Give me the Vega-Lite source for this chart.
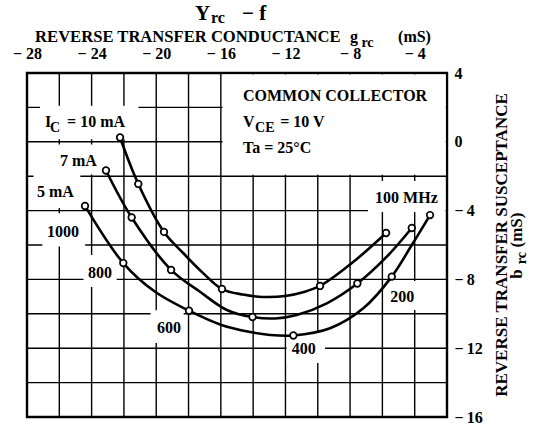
{
  "$schema": "https://vega.github.io/schema/vega-lite/v6.json",
  "width": 420,
  "height": 344,
  "autosize": {"type": "none"},
  "padding": {"left": 27, "top": 73, "right": 86, "bottom": 10},
  "background": "white",
  "config": {
    "view": {"stroke": "black", "strokeWidth": 2.4},
    "axis": {
      "grid": false,
      "domain": false, "ticks": false,
      "labelFont": "Liberation Serif", "labelFontWeight": "bold", "labelFontSize": 16,
      "labelColor": "black", "labelOverlap": false, "labelFlush": false
    }
  },
  "datasets": {
    "gx": [{"v": -26}, {"v": -24}, {"v": -22}, {"v": -20}, {"v": -18}, {"v": -16}, {"v": -14}, {"v": -12}, {"v": -10}, {"v": -8}, {"v": -6}, {"v": -4}],
    "gy": [{"v": -14}, {"v": -12}, {"v": -10}, {"v": -8}, {"v": -6}, {"v": -4}, {"v": -2}, {"v": 0}, {"v": 2}],
    "curves": [
      {"curve": "10mA", "x": -22.24, "y": 0.25, "m": 1},
      {"curve": "10mA", "x": -21.11, "y": -2.45, "m": 1},
      {"curve": "10mA", "x": -19.52, "y": -5.24, "m": 1},
      {"curve": "10mA", "x": -18.32, "y": -6.48, "m": 0},
      {"curve": "10mA", "x": -17.08, "y": -7.65, "m": 0},
      {"curve": "10mA", "x": -15.93, "y": -8.56, "m": 1},
      {"curve": "10mA", "x": -14.63, "y": -8.88, "m": 0},
      {"curve": "10mA", "x": -13.39, "y": -9.02, "m": 0},
      {"curve": "10mA", "x": -12.02, "y": -8.97, "m": 0},
      {"curve": "10mA", "x": -10.97, "y": -8.76, "m": 0},
      {"curve": "10mA", "x": -9.86, "y": -8.38, "m": 1},
      {"curve": "10mA", "x": -7.81, "y": -6.99, "m": 0},
      {"curve": "10mA", "x": -5.77, "y": -5.3, "m": 1},
      {"curve": "7mA", "x": -23.11, "y": -1.67, "m": 1},
      {"curve": "7mA", "x": -21.52, "y": -4.4, "m": 1},
      {"curve": "7mA", "x": -19.08, "y": -7.45, "m": 1},
      {"curve": "7mA", "x": -17.29, "y": -8.72, "m": 0},
      {"curve": "7mA", "x": -15.63, "y": -9.78, "m": 0},
      {"curve": "7mA", "x": -14.04, "y": -10.19, "m": 1},
      {"curve": "7mA", "x": -12.64, "y": -10.27, "m": 0},
      {"curve": "7mA", "x": -11.3, "y": -10.07, "m": 0},
      {"curve": "7mA", "x": -9.44, "y": -9.39, "m": 0},
      {"curve": "7mA", "x": -7.55, "y": -8.24, "m": 1},
      {"curve": "7mA", "x": -5.73, "y": -6.68, "m": 0},
      {"curve": "7mA", "x": -4.18, "y": -5.01, "m": 1},
      {"curve": "5mA", "x": -24.41, "y": -3.73, "m": 1},
      {"curve": "5mA", "x": -22.04, "y": -7.05, "m": 1},
      {"curve": "5mA", "x": -20.07, "y": -8.72, "m": 0},
      {"curve": "5mA", "x": -17.97, "y": -9.82, "m": 1},
      {"curve": "5mA", "x": -16.05, "y": -10.62, "m": 0},
      {"curve": "5mA", "x": -14.19, "y": -11.06, "m": 0},
      {"curve": "5mA", "x": -12.95, "y": -11.23, "m": 0},
      {"curve": "5mA", "x": -11.51, "y": -11.26, "m": 1},
      {"curve": "5mA", "x": -9.24, "y": -10.84, "m": 0},
      {"curve": "5mA", "x": -7.18, "y": -9.68, "m": 0},
      {"curve": "5mA", "x": -5.42, "y": -7.84, "m": 1},
      {"curve": "5mA", "x": -4.18, "y": -6.0, "m": 0},
      {"curve": "5mA", "x": -3.05, "y": -4.26, "m": 1}
    ],
    "boxes": [
      {"x": -15.9, "x2": -2.08, "y": -1.92, "y2": 3.92},
      {"x": -27.2, "x2": -21.1, "y": 0.15, "y2": 2.1},
      {"x": -26.4, "x2": -23.6, "y": -1.9, "y2": -0.15},
      {"x": -27.6, "x2": -24.7, "y": -3.85, "y2": -1.85},
      {"x": -27.05, "x2": -24.4, "y": -6.08, "y2": -4.15},
      {"x": -24.5, "x2": -22.45, "y": -8.44, "y2": -6.58},
      {"x": -20.35, "x2": -18.3, "y": -11.7, "y2": -9.8},
      {"x": -11.93, "x2": -9.55, "y": -12.86, "y2": -11.0},
      {"x": -5.8, "x2": -2.1, "y": -9.78, "y2": -8.1},
      {"x": -6.89, "x2": -2.1, "y": -4.08, "y2": -2.28}
    ],
    "labels": [
      {"t": "COMMON COLLECTOR", "x": -14.63, "y": 2.39},
      {"t": "V", "x": -14.63, "y": 0.88},
      {"t": "= 10 V", "x": -12.33, "y": 0.88},
      {"t": "Ta = 25°C", "x": -14.63, "y": -0.67},
      {"t": "I", "x": -26.89, "y": 0.88},
      {"t": "= 10 mA", "x": -25.52, "y": 0.88},
      {"t": "7 mA", "x": -25.96, "y": -1.41},
      {"t": "5 mA", "x": -27.38, "y": -3.23},
      {"t": "1000", "x": -26.76, "y": -5.55},
      {"t": "800", "x": -24.22, "y": -7.94},
      {"t": "600", "x": -19.95, "y": -11.1},
      {"t": "400", "x": -11.61, "y": -12.34},
      {"t": "200", "x": -5.52, "y": -9.3},
      {"t": "100 MHz", "x": -6.45, "y": -3.54},
      {"t": "g", "x": -8.0, "y": 5.82},
      {"t": "(mS)", "x": -5.03, "y": 5.82}
    ],
    "axtitle": [
      {"t": "REVERSE TRANSFER CONDUCTANCE", "x": -27.5, "y": 5.82}
    ],
    "subs": [
      {"t": "CE", "x": -13.88, "y": 0.59},
      {"t": "C", "x": -26.58, "y": 0.59},
      {"t": "rc", "x": -7.3, "y": 5.53}
    ],
    "title": [
      {"t": "Y", "x": -17.6, "y": 7.08},
      {"t": "− f", "x": -14.69, "y": 7.08}
    ],
    "titlesub": [
      {"t": "rc", "x": -16.61, "y": 6.91}
    ],
    "rot": [
      {"t": "REVERSE TRANSFER SUSCEPTANCE", "x": 1.72, "y": -6.0},
      {"t": "(mS)", "x": 2.65, "y": -5.13},
      {"t": "b", "x": 2.65, "y": -7.69}
    ],
    "rotsub": [
      {"t": "rc", "x": 2.9, "y": -6.76}
    ]
  },
  "layer": [
    {
      "data": {"name": "gx"},
      "mark": {"type": "rule", "color": "black", "strokeWidth": 1.4},
      "encoding": {
        "x": {"field": "v", "type": "quantitative", "title": null,
          "scale": {"domain": [-28, -2], "nice": false, "zero": false},
          "axis": {"orient": "top", "values": [-28,-24,-20,-16,-12,-8,-4],
            "labelExpr": "'− ' + abs(datum.value)",
            "labelPadding": 12, "title": null}},
        "y": {"datum": -16, "type": "quantitative", "title": null,
          "scale": {"domain": [-16, 4], "nice": false, "zero": false},
          "axis": {"orient": "right", "values": [-16,-12,-8,-4,0,4],
            "labelExpr": "datum.value < 0 ? '−\u2009' + abs(datum.value) : '' + datum.value",
            "labelPadding": 7, "labelBaseline": "middle", "labelAlign": "left", "title": null}},
        "y2": {"datum": 4}
      }
    },
    {
      "data": {"name": "gy"},
      "mark": {"type": "rule", "color": "black", "strokeWidth": 1.4},
      "encoding": {
        "y": {"field": "v", "type": "quantitative", "title": null, "scale": {"domain": [-16, 4], "nice": false, "zero": false}},
        "x": {"datum": -28, "type": "quantitative", "title": null, "scale": {"domain": [-28, -2], "nice": false, "zero": false}},
        "x2": {"datum": -2}
      }
    },
    {
      "data": {"name": "boxes"},
      "mark": {"type": "rect", "fill": "white", "stroke": null},
      "encoding": {
        "x": {"field": "x", "type": "quantitative", "title": null, "scale": {"domain": [-28, -2], "nice": false, "zero": false}},
        "x2": {"field": "x2"},
        "y": {"field": "y", "type": "quantitative", "title": null, "scale": {"domain": [-16, 4], "nice": false, "zero": false}},
        "y2": {"field": "y2"}
      }
    },
    {
      "data": {"name": "curves"},
      "mark": {"type": "line", "interpolate": "catmull-rom", "color": "black", "strokeWidth": 2.6},
      "encoding": {
        "x": {"field": "x", "type": "quantitative", "title": null, "scale": {"domain": [-28, -2], "nice": false, "zero": false}},
        "y": {"field": "y", "type": "quantitative", "title": null, "scale": {"domain": [-16, 4], "nice": false, "zero": false}},
        "detail": {"field": "curve"}
      }
    },
    {
      "data": {"name": "curves"},
      "transform": [{"filter": "datum.m == 1"}],
      "mark": {"type": "point", "shape": "circle", "filled": true, "fill": "white", "stroke": "black", "strokeWidth": 1.7, "size": 44, "opacity": 1},
      "encoding": {
        "x": {"field": "x", "type": "quantitative", "title": null, "scale": {"domain": [-28, -2], "nice": false, "zero": false}},
        "y": {"field": "y", "type": "quantitative", "title": null, "scale": {"domain": [-16, 4], "nice": false, "zero": false}}
      }
    },
    {
      "data": {"name": "labels"},
      "mark": {"type": "text", "font": "Liberation Serif", "fontWeight": "bold", "fontSize": 16, "align": "left", "baseline": "alphabetic", "color": "black"},
      "encoding": {
        "x": {"field": "x", "type": "quantitative", "title": null, "scale": {"domain": [-28, -2], "nice": false, "zero": false}},
        "y": {"field": "y", "type": "quantitative", "title": null, "scale": {"domain": [-16, 4], "nice": false, "zero": false}},
        "text": {"field": "t"}
      }
    },
    {
      "data": {"name": "axtitle"},
      "mark": {"type": "text", "font": "Liberation Serif", "fontWeight": "bold", "fontSize": 16.6, "align": "left", "baseline": "alphabetic", "color": "black"},
      "encoding": {
        "x": {"field": "x", "type": "quantitative", "title": null, "scale": {"domain": [-28, -2], "nice": false, "zero": false}},
        "y": {"field": "y", "type": "quantitative", "title": null, "scale": {"domain": [-16, 4], "nice": false, "zero": false}},
        "text": {"field": "t"}
      }
    },
    {
      "data": {"name": "subs"},
      "mark": {"type": "text", "font": "Liberation Serif", "fontWeight": "bold", "fontSize": 14, "align": "left", "baseline": "alphabetic", "color": "black"},
      "encoding": {
        "x": {"field": "x", "type": "quantitative", "title": null, "scale": {"domain": [-28, -2], "nice": false, "zero": false}},
        "y": {"field": "y", "type": "quantitative", "title": null, "scale": {"domain": [-16, 4], "nice": false, "zero": false}},
        "text": {"field": "t"}
      }
    },
    {
      "data": {"name": "title"},
      "mark": {"type": "text", "font": "Liberation Serif", "fontWeight": "bold", "fontSize": 21, "align": "left", "baseline": "alphabetic", "color": "black"},
      "encoding": {
        "x": {"field": "x", "type": "quantitative", "title": null, "scale": {"domain": [-28, -2], "nice": false, "zero": false}},
        "y": {"field": "y", "type": "quantitative", "title": null, "scale": {"domain": [-16, 4], "nice": false, "zero": false}},
        "text": {"field": "t"}
      }
    },
    {
      "data": {"name": "titlesub"},
      "mark": {"type": "text", "font": "Liberation Serif", "fontWeight": "bold", "fontSize": 16, "align": "left", "baseline": "alphabetic", "color": "black"},
      "encoding": {
        "x": {"field": "x", "type": "quantitative", "title": null, "scale": {"domain": [-28, -2], "nice": false, "zero": false}},
        "y": {"field": "y", "type": "quantitative", "title": null, "scale": {"domain": [-16, 4], "nice": false, "zero": false}},
        "text": {"field": "t"}
      }
    },
    {
      "data": {"name": "rot"},
      "mark": {"type": "text", "font": "Liberation Serif", "fontWeight": "bold", "fontSize": 17, "angle": 270, "align": "center", "baseline": "alphabetic", "color": "black"},
      "encoding": {
        "x": {"field": "x", "type": "quantitative", "title": null, "scale": {"domain": [-28, -2], "nice": false, "zero": false}},
        "y": {"field": "y", "type": "quantitative", "title": null, "scale": {"domain": [-16, 4], "nice": false, "zero": false}},
        "text": {"field": "t"}
      }
    },
    {
      "data": {"name": "rotsub"},
      "mark": {"type": "text", "font": "Liberation Serif", "fontWeight": "bold", "fontSize": 14, "angle": 270, "align": "center", "baseline": "alphabetic", "color": "black"},
      "encoding": {
        "x": {"field": "x", "type": "quantitative", "title": null, "scale": {"domain": [-28, -2], "nice": false, "zero": false}},
        "y": {"field": "y", "type": "quantitative", "title": null, "scale": {"domain": [-16, 4], "nice": false, "zero": false}},
        "text": {"field": "t"}
      }
    }
  ]
}
